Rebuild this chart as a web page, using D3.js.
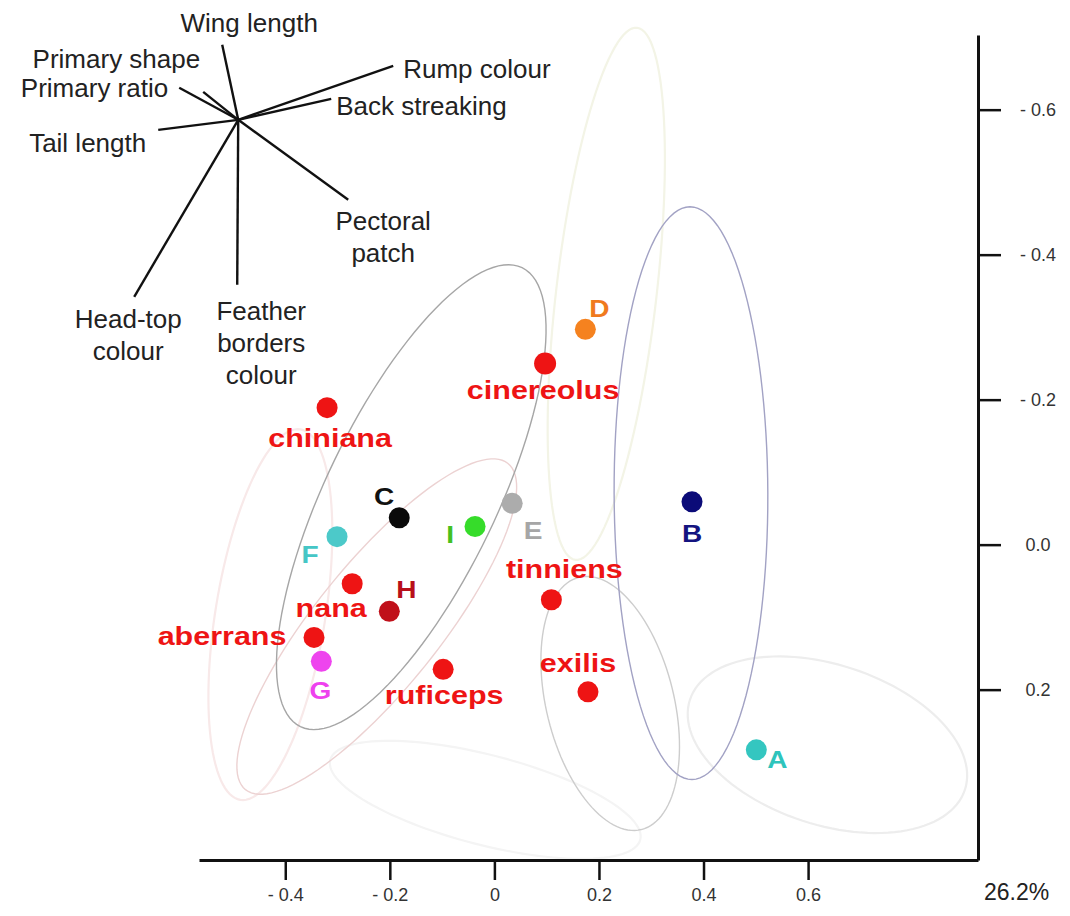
<!DOCTYPE html>
<html>
<head>
<meta charset="utf-8">
<script src="https://cdn.jsdelivr.net/npm/d3@7"></script>
<style>
  body { margin: 0; background: #fff; }
  svg { display: block; font-family: "Liberation Sans", Arial, sans-serif; }
  .axis text { font-size: 18px; fill: #333; }
</style>
</head>
<body>
<script>
var width = 1070;
var height = 916;

// taxa scores on the first two axes
var taxa = ["cinereolus", "D", "chiniana", "C", "I", "E", "B", "F", "tinniens", "nana", "H", "aberrans", "G", "ruficeps", "exilis", "A"];
var score1 = [0.097, 0.174, -0.320, -0.182, -0.037, 0.034, 0.378, -0.301, 0.109, -0.272, -0.201, -0.345, -0.331, -0.098, 0.179, 0.501];
var score2 = [-0.250, -0.297, -0.189, -0.037, -0.025, -0.057, -0.059, -0.011, 0.076, 0.054, 0.092, 0.128, 0.161, 0.172, 0.203, 0.283];

// character loadings (drawn as a small biplot star)
var characters = ["Wing length", "Primary shape", "Primary ratio", "Tail length", "Rump colour", "Back streaking", "Pectoral patch", "Feather borders colour", "Head-top colour"];
var load1 = [-0.08, -0.175, -0.295, -0.40, 0.775, 0.465, 0.55, -0.005, -0.52];
var load2 = [-0.375, -0.14, -0.16, 0.05, -0.27, -0.105, 0.40, 0.825, 0.885];
var loadOrigin = [-0.49, -0.586];

// group ellipses: both ends of the long axis + half width, axis units
var ellEnd1x = [0.053, 0.026, 0.374, 0.162, 0.374, 0.273, -0.371, -0.314];
var ellEnd1y = [-0.382, -0.112, -0.466, 0.045, 0.214, -0.713, -0.159, 0.297];
var ellEnd2x = [-0.371, -0.476, 0.378, 0.281, 0.900, 0.155, -0.486, 0.279];
var ellEnd2y = [0.251, 0.338, 0.324, 0.393, 0.338, 0.021, 0.352, 0.407];
var ellHalfW = [0.163, 0.119, 0.147, 0.122, 0.153, 0.096, 0.105, 0.086];

var xTicks = [-0.4, -0.2, 0, 0.2, 0.4, 0.6];
var xTickLabels = ["- 0.4", "- 0.2", "0", "0.2", "0.4", "0.6"];
var yTicks = [-0.6, -0.4, -0.2, 0, 0.2];
var yTickLabels = ["- 0.6", "- 0.4", "- 0.2", "0.0", "0.2"];
var varianceLabel = "26.2%";

// styles
var ellColor = ["#a6a6a6", "#ecd2d2", "#a2a2c4", "#cdcdcd", "#ededed", "#f3f4e6", "#f8e9e9", "#f4f4f4"];
var red = "#ee1414";
var dotColor = {
  D: "#f5821f", C: "#0a0a0a", I: "#36dc2a", E: "#acacac", B: "#0b0b78",
  F: "#4cc9c9", H: "#c0101a", G: "#ee44ee", A: "#34c6c0"
};
var textColor = {
  D: "#f07a1e", C: "#111", I: "#44c020", E: "#a6a6a6", B: "#141480",
  F: "#45c6c6", H: "#b8101a", G: "#ee40ee", A: "#2ec4bc"
};
var labelOffset = {
  cinereolus: [-2, 36], D: [14, -12], chiniana: [3, 39], C: [-15, -13],
  I: [-25, 16], E: [21, 36], B: [0, 40], F: [-27, 26], tinniens: [13, -22],
  nana: [-21, 33], H: [17, -13], aberrans: [-92, 8], G: [-1, 38],
  ruficeps: [1, 35], exilis: [-10, -20], A: [21, 18]
};
var vecLabel = {
  "Wing length": { lines: ["Wing length"], anchor: "middle", dx: 27, dy: -13 },
  "Primary shape": { lines: ["Primary shape"], anchor: "end", dx: -3, dy: -24 },
  "Primary ratio": { lines: ["Primary ratio"], anchor: "end", dx: -11, dy: 9 },
  "Tail length": { lines: ["Tail length"], anchor: "end", dx: -12, dy: 22 },
  "Rump colour": { lines: ["Rump colour"], anchor: "start", dx: 10, dy: 12 },
  "Back streaking": { lines: ["Back streaking"], anchor: "start", dx: 5, dy: 16 },
  "Pectoral patch": { lines: ["Pectoral", "patch"], anchor: "middle", dx: 35, dy: 30 },
  "Feather borders colour": { lines: ["Feather", "borders", "colour"], anchor: "middle", dx: 24, dy: 35 },
  "Head-top colour": { lines: ["Head-top", "colour"], anchor: "middle", dx: -6, dy: 31 }
};

var svg = d3.select("body").append("svg")
  .attr("width", width)
  .attr("height", height);

// scales
var xScale = d3.scaleLinear().domain([-0.565, 0.925]).range([199, 978]);
var yScale = d3.scaleLinear().domain([-0.703, 0.435]).range([35, 860]);
var loadScale = d3.scaleLinear().domain([0, 1]).range([0, 200]);

// ellipses
var line = d3.line().curve(d3.curveLinearClosed);
function ellipsePoints(i) {
  var x1 = xScale(ellEnd1x[i]), y1 = yScale(ellEnd1y[i]);
  var x2 = xScale(ellEnd2x[i]), y2 = yScale(ellEnd2y[i]);
  var cx = (x1 + x2) / 2, cy = (y1 + y2) / 2;
  var len = Math.hypot(x2 - x1, y2 - y1);
  var ux = (x2 - x1) / len, uy = (y2 - y1) / len;
  var a = len / 2, b = xScale(ellHalfW[i]) - xScale(0);
  return d3.range(120).map(function(k) {
    var t = k / 120 * 2 * Math.PI;
    var p = a * Math.cos(t), q = b * Math.sin(t);
    return [cx + p * ux - q * uy, cy + p * uy + q * ux];
  });
}
svg.append("g").selectAll("path")
  .data(d3.range(ellEnd1x.length).reverse())
  .enter().append("path")
  .attr("d", function(i) { return line(ellipsePoints(i)); })
  .attr("fill", "none")
  .attr("stroke", function(i) { return ellColor[i]; })
  .attr("stroke-width", function(i) { return i < 4 ? 1.4 : 2.2; });

// axes
var xAxis = d3.axisBottom(xScale)
  .tickValues(xTicks)
  .tickFormat(function(d, i) { return xTickLabels[i]; })
  .tickSize(20).tickSizeOuter(0).tickPadding(8);
var yAxis = d3.axisRight(yScale)
  .tickValues(yTicks)
  .tickFormat(function(d, i) { return yTickLabels[i]; })
  .tickSize(23).tickSizeOuter(0).tickPadding(16);

var gx = svg.append("g")
  .attr("class", "axis")
  .attr("transform", "translate(0," + yScale.range()[1] + ")")
  .call(xAxis);
var gy = svg.append("g")
  .attr("class", "axis")
  .attr("transform", "translate(" + xScale.range()[1] + ",0)")
  .call(yAxis);

[gx, gy].forEach(function(g) {
  g.attr("font-size", 18).attr("font-family", "Liberation Sans, Arial, sans-serif");
  g.select(".domain").attr("stroke", "#111").attr("stroke-width", 3);
  g.selectAll(".tick line").attr("stroke", "#111").attr("stroke-width", 2.5);
});
gy.selectAll(".tick text").attr("text-anchor", "middle").attr("x", 60);

svg.append("text")
  .attr("x", xScale.range()[1] + 6)
  .attr("y", yScale.range()[1] + 40)
  .attr("fill", "#222")
  .style("font-size", "23px")
  .text(varianceLabel);

// loadings star
var ox = xScale(loadOrigin[0]), oy = yScale(loadOrigin[1]);
var vec = svg.append("g");
characters.forEach(function(name, i) {
  var ex = ox + loadScale(load1[i]), ey = oy + loadScale(load2[i]);
  vec.append("line")
    .attr("x1", ox).attr("y1", oy).attr("x2", ex).attr("y2", ey)
    .attr("stroke", "#111").attr("stroke-width", 2.4);
  var lab = vecLabel[name];
  var t = vec.append("text")
    .attr("text-anchor", lab.anchor)
    .attr("fill", "#222")
    .style("font-size", "26px");
  lab.lines.forEach(function(s, j) {
    t.append("tspan")
      .attr("x", ex + lab.dx)
      .attr("y", ey + lab.dy + j * 32)
      .text(s);
  });
});

// taxa
var pts = svg.append("g");
taxa.forEach(function(name, i) {
  var px = xScale(score1[i]), py = yScale(score2[i]);
  var isLetter = name.length === 1;
  pts.append("circle")
    .attr("cx", px).attr("cy", py)
    .attr("r", name === "cinereolus" ? 11 : 10.5)
    .attr("fill", isLetter ? dotColor[name] : red);
  var off = labelOffset[name];
  pts.append("text")
    .attr("transform", "translate(" + (px + off[0]) + "," + (py + off[1]) + ") scale(1.22,1)")
    .attr("text-anchor", "middle")
    .attr("fill", isLetter ? textColor[name] : red)
    .style("font-weight", "bold")
    .style("font-size", isLetter ? "23px" : "25px")
    .text(name);
});
</script>
</body>
</html>
